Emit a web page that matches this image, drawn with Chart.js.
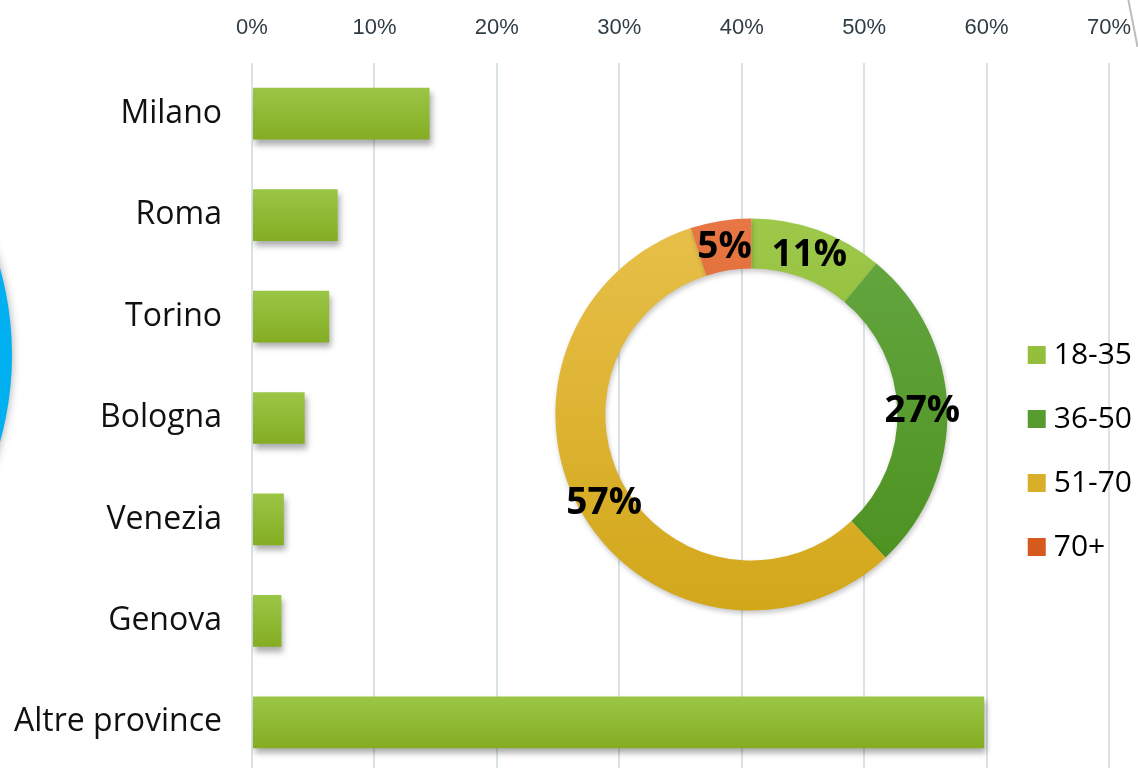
<!DOCTYPE html>
<html lang="it">
<head>
    <meta charset="UTF-8">
    <title>Distribuzione per provincia ed età</title>
    <style>
        body, html {
            margin: 0;
            padding: 0;
            width: 1138px;
            height: 768px;
            overflow: hidden;
            background: #fff;
        }
        .wrap {
            position: relative;
            width: 1138px;
            height: 768px;
            overflow: hidden;
        }
        #barChart {
            position: absolute;
            left: 0;
            top: 0;
        }
        #ageChart {
            position: absolute;
            left: 502px;
            top: 200px;
        }
        .blob {
            position: absolute;
            left: -630px;
            top: 34px;
            width: 642px;
            height: 642px;
            border-radius: 50%;
            background: #00b0f0;
            box-shadow: 0 0 10px rgba(0, 0, 0, 0.35);
        }
        .slash {
            position: absolute;
            left: 1127px;
            top: -2px;
            width: 1.5px;
            height: 50px;
            background: #bdbdbd;
            transform-origin: top left;
            transform: rotate(-11deg);
        }
    </style>
    <script src="https://cdn.jsdelivr.net/npm/chart.js"></script>
</head>
<body>
    <div class="wrap">
        <div class="blob"></div>
        <div class="slash"></div>
        <canvas id="barChart" width="1138" height="780"></canvas>
        <canvas id="ageChart" width="640" height="430"></canvas>
    </div>
    <script>
        // quota per provincia (%)
        const cities = ['Milano', 'Roma', 'Torino', 'Bologna', 'Venezia', 'Genova', 'Altre province'];
        const cityShares = [14.5, 7.0, 6.3, 4.3, 2.6, 2.4, 59.8];
        const xTicks = [0, 10, 20, 30, 40, 50, 60, 70];

        // fasce d'età (%)
        const ageGroups = ['18-35', '36-50', '51-70', '70+'];
        const ageShares = [11, 27, 57, 5];
        const ageColors = [
            ['#9dc84a', '#83ad22'],
            ['#66a842', '#4a8f1d'],
            ['#e8c04a', '#d2a71a'],
            ['#e77745', '#d25315']
        ];

        const shadowPlugin = {
            id: 'shadow',
            beforeDatasetsDraw(chart, args, opts) {
                const ctx = chart.ctx;
                ctx.save();
                ctx.shadowColor = opts.color || 'rgba(0,0,0,0.3)';
                ctx.shadowBlur = opts.blur || 6;
                ctx.shadowOffsetX = opts.x || 0;
                ctx.shadowOffsetY = opts.y || 0;
            },
            afterDatasetsDraw(chart) {
                chart.ctx.restore();
            }
        };

        function barFill(context) {
            const chart = context.chart;
            const y = chart.scales && chart.scales.y;
            if (!chart.chartArea || !y) return '#8fba33';
            const c = y.getPixelForValue(context.dataIndex);
            const g = chart.ctx.createLinearGradient(0, c - 26, 0, c + 26);
            g.addColorStop(0, '#9bc646');
            g.addColorStop(1, '#84ad22');
            return g;
        }

        new Chart(document.getElementById('barChart'), {
            type: 'bar',
            data: {
                labels: cities,
                datasets: [{
                    data: cityShares,
                    backgroundColor: barFill,
                    borderWidth: 0,
                    barPercentage: 0.51,
                    categoryPercentage: 1.0
                }]
            },
            options: {
                indexAxis: 'y',
                responsive: false,
                animation: false,
                layout: { padding: { left: 0, top: 0, right: 29, bottom: 7 } },
                plugins: {
                    legend: { display: false },
                    tooltip: { enabled: false },
                    shadow: { color: 'rgba(0,0,0,0.32)', blur: 6, x: 2, y: 5 }
                },
                scales: {
                    x: {
                        position: 'top',
                        min: xTicks[0],
                        max: xTicks[xTicks.length - 1],
                        afterBuildTicks(scale) {
                            scale.ticks = xTicks.map(v => ({ value: v }));
                        },
                        afterFit(scale) {
                            scale.height = 63;
                            scale.paddingLeft = 0;
                            scale.paddingRight = 0;
                        },
                        grid: { color: '#d9e3e6', lineWidth: 2, drawTicks: false },
                        border: { display: false },
                        ticks: {
                            padding: 22,
                            color: '#2e3d45',
                            font: { family: 'Liberation Sans', size: 22 },
                            callback: v => v + '%'
                        }
                    },
                    y: {
                        afterFit(scale) {
                            scale.width = 252;
                            scale.paddingTop = 0;
                            scale.paddingBottom = 0;
                        },
                        grid: { display: false, drawTicks: false },
                        border: { display: false },
                        ticks: {
                            padding: 30,
                            color: '#111',
                            font: { family: 'Open Sans', size: 32 }
                        }
                    }
                }
            },
            plugins: [shadowPlugin]
        });

        function ageFill(context) {
            const chart = context.chart;
            const area = chart.chartArea;
            const pair = ageColors[context.dataIndex];
            if (!area) return pair[0];
            const cy = (area.top + area.bottom) / 2;
            const g = chart.ctx.createLinearGradient(0, cy - 196, 0, cy + 196);
            g.addColorStop(0, pair[0]);
            g.addColorStop(1, pair[1]);
            return g;
        }

        const pctLabels = {
            id: 'pctLabels',
            afterDatasetsDraw(chart) {
                const ctx = chart.ctx;
                const meta = chart.getDatasetMeta(0);
                ctx.save();
                ctx.font = 'bold 37px "Open Sans"';
                ctx.fillStyle = '#000';
                ctx.textAlign = 'center';
                ctx.textBaseline = 'middle';
                meta.data.forEach((arc, i) => {
                    const p = arc.getCenterPoint();
                    ctx.fillText(ageShares[i] + '%', p.x, p.y + 2);
                });
                ctx.restore();
            }
        };

        new Chart(document.getElementById('ageChart'), {
            type: 'doughnut',
            data: {
                labels: ageGroups,
                datasets: [{
                    data: ageShares,
                    backgroundColor: ageFill,
                    borderWidth: 0,
                    radius: 196,
                    cutout: '74.5%',
                    clip: false
                }]
            },
            options: {
                responsive: false,
                animation: false,
                layout: { padding: { top: 33, bottom: 34, left: 0, right: 0 } },
                plugins: {
                    tooltip: { enabled: false },
                    shadow: { color: 'rgba(0,0,0,0.22)', blur: 5, x: 1, y: 3 },
                    legend: {
                        position: 'right',
                        align: 'end',
                        labels: {
                            usePointStyle: true,
                            pointStyle: 'rect',
                            boxWidth: 4,
                            boxHeight: 18,
                            padding: 34,
                            color: '#000',
                            font: { family: 'Open Sans', size: 30 }
                        }
                    }
                }
            },
            plugins: [shadowPlugin, pctLabels]
        });
    </script>
</body>
</html>
